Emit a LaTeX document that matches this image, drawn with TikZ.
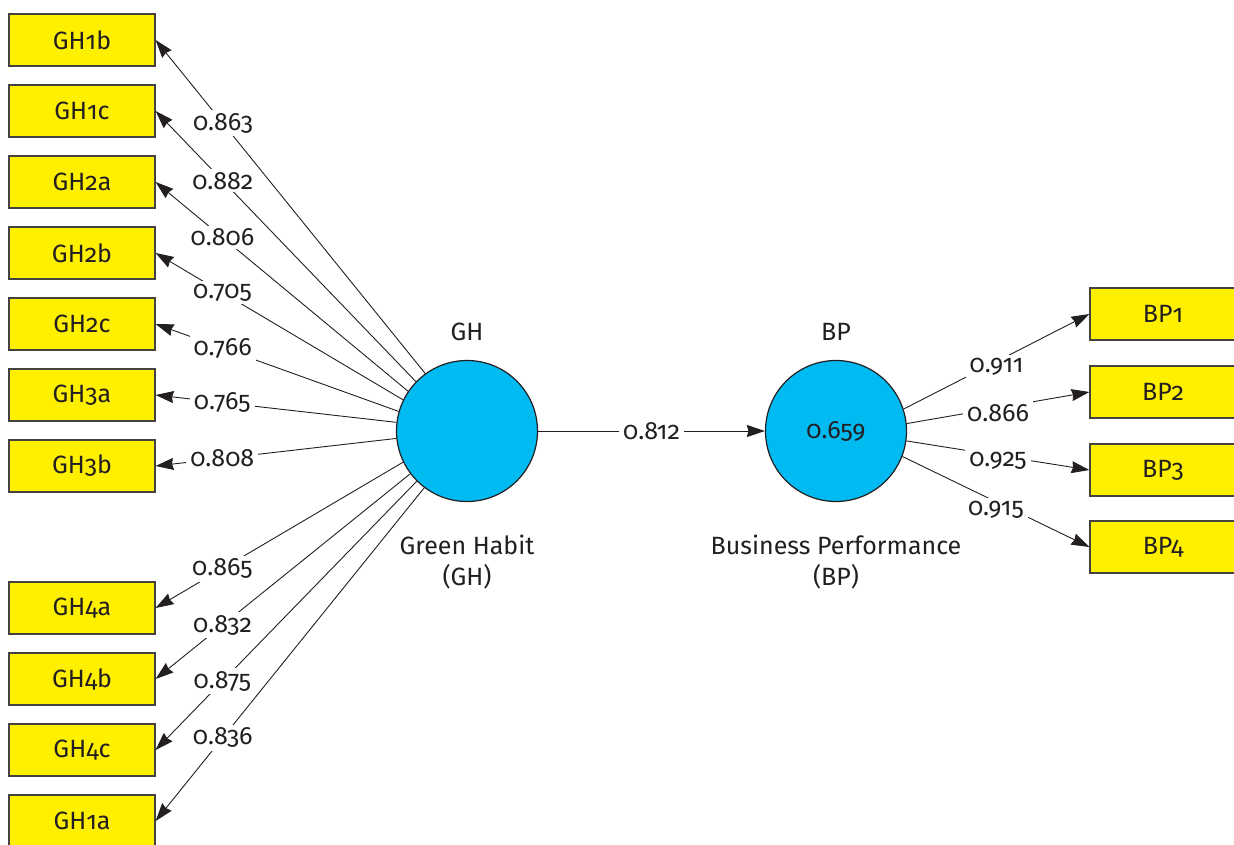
\documentclass[tikz,border=0pt]{standalone}
\usepackage{fontspec}
\setmainfont{Fira Sans}[Numbers=OldStyle]
\usetikzlibrary{arrows.meta}
\definecolor{boxyellow}{RGB}{255,240,0}
\definecolor{lvblue}{RGB}{0,186,242}
\definecolor{inkgray}{RGB}{35,31,32}
\tikzset{
	ind/.style={draw=inkgray!85,line width=1.2pt,fill=boxyellow,minimum width=146pt,minimum height=52pt,inner sep=0pt},
	lv/.style={circle,draw=inkgray,line width=1.2pt,fill=lvblue,minimum size=141pt,inner sep=0pt},
	load/.style={fill=white,inner xsep=4pt,inner ysep=3pt},
}
\begin{document}
\begin{tikzpicture}[x=1pt,y=-1pt,line width=0.9pt,color=inkgray,>={Stealth[length=18pt,width=12pt,inset=1.5pt]},font=\fontsize{25}{31}\selectfont]
	\useasboundingbox (0,0) rectangle (1234,844);
	% latent variables
	\node[lv] (GH) at (467,431) {};
	\node[lv] (BP) at (836,431) {0.659};
	\node (GHtop) at (467,332) {GH};
	\node (BPtop) at (836,332) {BP};
	\node[align=center] (GHname) at (467,562) {Green Habit\\(GH)};
	\node[align=center] (BPname) at (836,562) {Business Performance\\(BP)};
	% indicators of GH
	\node[ind] (gh1b) at (82,40) {GH1b};
	\node[ind] (gh1c) at (82,111) {GH1c};
	\node[ind] (gh2a) at (82,182) {GH2a};
	\node[ind] (gh2b) at (82,253) {GH2b};
	\node[ind] (gh2c) at (82,324) {GH2c};
	\node[ind] (gh3a) at (82,395) {GH3a};
	\node[ind] (gh3b) at (82,466) {GH3b};
	\node[ind] (gh4a) at (82,608) {GH4a};
	\node[ind] (gh4b) at (82,679) {GH4b};
	\node[ind] (gh4c) at (82,750) {GH4c};
	\node[ind] (gh1a) at (82,821) {GH1a};
	% indicators of BP
	\node[ind] (bp1) at (1163,314) {BP1};
	\node[ind] (bp2) at (1163,392) {BP2};
	\node[ind] (bp3) at (1163,470) {BP3};
	\node[ind] (bp4) at (1163,547) {BP4};
	% loadings
	\draw[->] (GH.126.6) -- node[load,pos=0.75] (l1b) {0.863} (gh1b.east);
	\draw[->] (GH.136.7) -- node[load,pos=0.742] (l1c) {0.882} (gh1c.east);
	\draw[->] (GH.146.5) -- node[load,pos=0.735] (l2a) {0.806} (gh2a.east);
	\draw[->] (GH.154.2) -- node[load,pos=0.73] (l2b) {0.705} (gh2b.east);
	\draw[->] (GH.164.6) -- node[load,pos=0.724] (l2c) {0.766} (gh2c.east);
	\draw[->] (GH.173.5) -- node[load,pos=0.723] (l3a) {0.765} (gh3a.east);
	\draw[->] (GH.186.5) -- node[load,pos=0.723] (l3b) {0.808} (gh3b.east);
	\draw[->] (GH.206.6) -- node[load,pos=0.73] (l4a) {0.865} (gh4a.east);
	\draw[->] (GH.217.7) -- node[load,pos=0.737] (l4b) {0.832} (gh4b.east);
	\draw[->] (GH.225.6) -- node[load,pos=0.744] (l4c) {0.875} (gh4c.east);
	\draw[->] (GH.233) -- node[load,pos=0.75] (l1a) {0.836} (gh1a.east);
	\draw[->] (BP.18.4) -- node[load,pos=0.5,yshift=-5pt] (lbp1) {0.911} (bp1.west);
	\draw[->] (BP.6.5) -- node[load,pos=0.5,yshift=-5pt] (lbp2) {0.866} (bp2.west);
	\draw[->] (BP.-8.6) -- node[load,pos=0.5,yshift=-5pt] (lbp3) {0.925} (bp3.west);
	\draw[->] (BP.-21.8) -- node[load,pos=0.5,yshift=-8pt] (lbp4) {0.915} (bp4.west);
	% path
	\draw[->] (GH) -- node[load] (lpath) {0.812} (BP);
\end{tikzpicture}
\end{document}
